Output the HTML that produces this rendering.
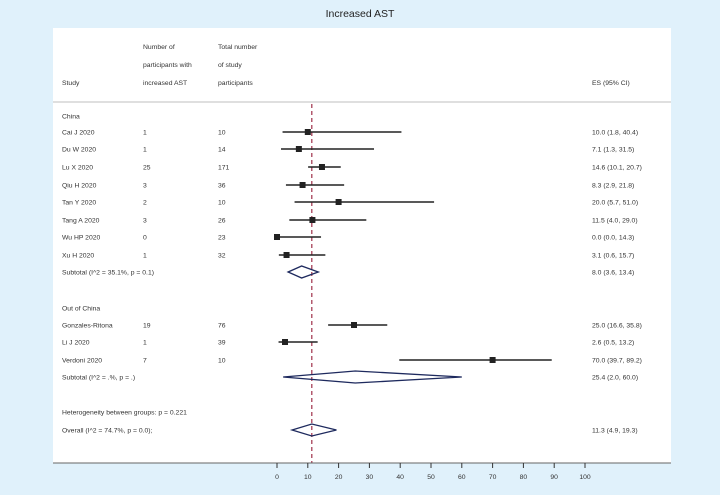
<!DOCTYPE html>
<html><head><meta charset="utf-8"><style>
body{margin:0;background:#e0f1fb;}
svg{display:block;font-family:"Liberation Sans",sans-serif;}
</style></head><body>
<svg id="c" width="720" height="495">
<rect x="53" y="28" width="618" height="435" fill="#fff"/>
<text x="360" y="17" font-size="10.5" text-anchor="middle" fill="#222">Increased AST</text>
<g font-size="6.8" fill="#333">
<text x="62" y="85">Study</text>
<text x="143" y="49">Number of</text><text x="143" y="67">participants with</text><text x="143" y="85">increased AST</text>
<text x="218" y="49">Total number</text><text x="218" y="67">of study</text><text x="218" y="85">participants</text>
<text x="592" y="85">ES (95% CI)</text>
</g>
<line x1="53" y1="102" x2="671" y2="102" stroke="#aaa" stroke-width="0.8"/>
<g id="rows"></g>
</svg>
<script>
const labels=["Cai J 2020","Du W 2020","Lu X 2020","Qiu H 2020","Tan Y 2020","Tang A 2020","Wu HP 2020","Xu H 2020","Gonzales-Ritona","Li J 2020","Verdoni 2020"];
const events=[1,1,25,3,2,3,0,1,19,1,7];
const totals=[10,14,171,36,10,26,23,32,76,39,10];
const es=[10.0,7.1,14.6,8.3,20.0,11.5,0.0,3.1,25.0,2.6,70.0];
const lo=[1.8,1.3,10.1,2.9,5.7,4.0,0.0,0.6,16.6,0.5,39.7];
const hi=[40.4,31.5,20.7,21.8,51.0,29.0,14.3,15.7,35.8,13.2,89.2];
const rowY=[132,149,167,185,202,220,237,255,325,342,360];
const pooledLabels=["Subtotal  (I^2 = 35.1%, p = 0.1)","Subtotal  (I^2 = .%, p = .)","Overall  (I^2 = 74.7%, p = 0.0);"];
const pooledEs=[8.0,25.4,11.3];
const pooledLo=[3.6,2.0,4.9];
const pooledHi=[13.4,60.0,19.3];
const pooledY=[272,377,430];
const ticks=[0,10,20,30,40,50,60,70,80,90,100];
const overall=11.3;
const X=v=>277+v*3.08;
const NS="http://www.w3.org/2000/svg";
const g=document.getElementById('rows');
function mk(t,a,txt){const e=document.createElementNS(NS,t);for(const k in a)e.setAttribute(k,a[k]);if(txt!=null)e.textContent=txt;g.appendChild(e);return e;}
function txt(x,y,s,name){const e=mk('text',{x:x,y:y+2.5,'font-size':6.8,fill:'#333'},s);

return e;}
const f=v=>v.toFixed(1);
let e=mk('line',{x1:X(overall),y1:104,x2:X(overall),y2:463,stroke:'#a0304a','stroke-width':1.2,'stroke-dasharray':'4,3'});


txt(62,116,"China","group-label-china");
txt(62,308,"Out of China","group-label-out-of-china");
txt(62,412,"Heterogeneity between groups: p = 0.221","heterogeneity-note");
labels.forEach((l,i)=>{const y=rowY[i];
txt(62,y,l,'study-label');txt(143,y,String(events[i]),'events-value');txt(218,y,String(totals[i]),'total-value');
txt(592,y,`${f(es[i])} (${f(lo[i])}, ${f(hi[i])})`,'es-ci-value');
let c=mk('line',{x1:X(lo[i]),y1:y,x2:X(hi[i]),y2:y,stroke:'#222','stroke-width':1.5});


let p=mk('rect',{x:X(es[i])-3,y:y-3,width:6,height:6,fill:'#222'});

});
pooledLabels.forEach((l,i)=>{const y=pooledY[i];
txt(62,y,l,'pooled-label');
txt(592,y,`${f(pooledEs[i])} (${f(pooledLo[i])}, ${f(pooledHi[i])})`,'pooled-es-ci-value');
let d=mk('polygon',{points:`${X(pooledLo[i])},${y} ${X(pooledEs[i])},${y-6} ${X(pooledHi[i])},${y} ${X(pooledEs[i])},${y+6}`,fill:'none',stroke:'#1e2a5e','stroke-width':1.3});

});
e=mk('line',{x1:53,y1:463,x2:671,y2:463,stroke:'#666','stroke-width':1});


ticks.forEach(t=>{let l=mk('line',{x1:X(t),y1:463,x2:X(t),y2:468,stroke:'#333','stroke-width':1});


let tx=mk('text',{x:X(t),y:479,'font-size':6.8,fill:'#333','text-anchor':'middle'},String(t));

});
</script>
</body></html>
